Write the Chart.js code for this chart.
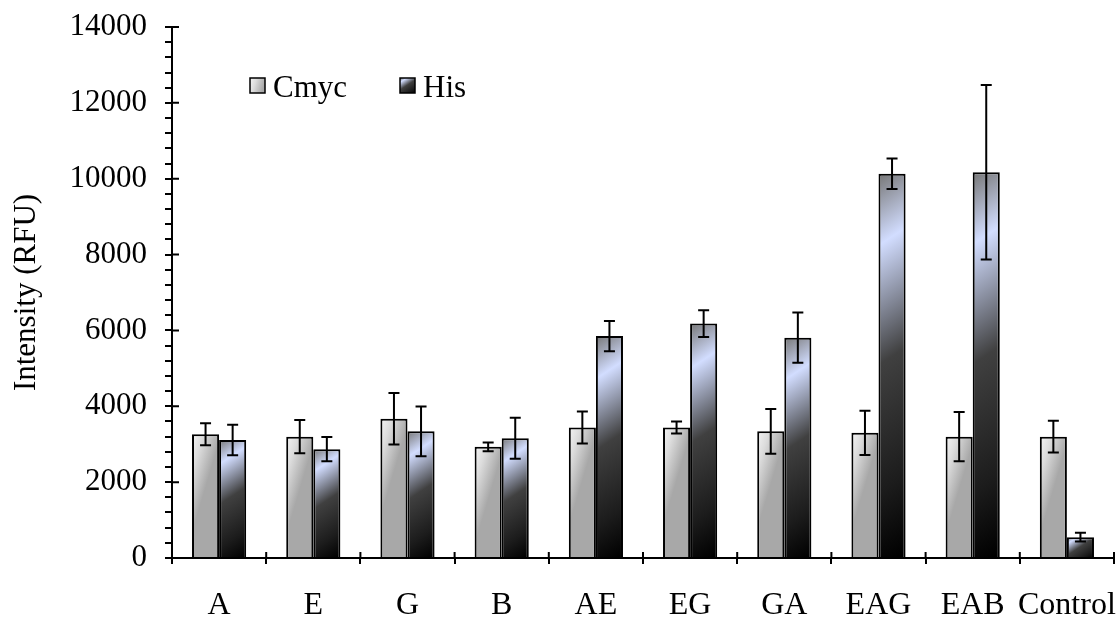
<!DOCTYPE html>
<html>
<head>
<meta charset="utf-8">
<script src="https://cdn.jsdelivr.net/npm/chart.js@4"></script>
<style>
  html, body { margin: 0; padding: 0; background: #fff; }
  #wrap { width: 1120px; height: 622px; }
</style>
</head>
<body>
<div id="wrap"><canvas id="rfuChart"></canvas></div>
<script>
const categories = ['A', 'E', 'G', 'B', 'AE', 'EG', 'GA', 'EAG', 'EAB', 'Control'];
const cmycValues = [3260, 3200, 3670, 2930, 3440, 3440, 3340, 3300, 3200, 3200];
const cmycErrors = [290, 440, 680, 115, 420, 160, 590, 585, 650, 420];
const hisValues = [3110, 2870, 3340, 3160, 5850, 6180, 5810, 10130, 10170, 550];
const hisErrors = [400, 320, 655, 540, 400, 350, 660, 400, 2300, 115];
const yMajorTicks = [0, 2000, 4000, 6000, 8000, 10000, 12000, 14000];

const FONT = "'Liberation Serif', 'Times New Roman', serif";
const CAT_PCT = 0.575;

function cmycFill(ctx, left, top, w, h) {
  const g = ctx.createLinearGradient(left, top, left + w, top + w * 0.3);
  g.addColorStop(0, '#f4f4f4');
  g.addColorStop(0.4, '#dcdcdc');
  g.addColorStop(1, '#a8a8a8');
  return g;
}

// fixed-angle diagonal band, like the spreadsheet fill
function hisFill(ctx, left, top, w, h) {
  const dx = 0.55, dy = 0.83;
  const len = w * dx + h * dy;
  const g = ctx.createLinearGradient(left, top, left + dx * len, top + dy * len);
  g.addColorStop(0, '#767676');
  g.addColorStop(0.18, '#d2ddff');
  g.addColorStop(0.48, '#404040');
  g.addColorStop(0.8, '#1c1c1c');
  g.addColorStop(1, '#000000');
  return g;
}

// gradient per bar, worked out from the scales
function barFill(fillFn, values, side) {
  return function(c) {
    const chart = c.chart;
    if (!chart.chartArea || c.dataIndex === undefined) return '#ccc';
    const xs = chart.scales.x, ys = chart.scales.y;
    const w = xs.width / categories.length * CAT_PCT / 2;
    const cx = xs.getPixelForValue(c.dataIndex);
    const left = side === 0 ? cx - w : cx;
    const top = ys.getPixelForValue(values[c.dataIndex]);
    const bottom = ys.getPixelForValue(0);
    return fillFn(chart.ctx, left, top, w, Math.max(bottom - top, 1));
  };
}

const errorBars = {
  id: 'errorBars',
  afterDatasetsDraw(chart) {
    const ctx = chart.ctx, ys = chart.scales.y;
    const errs = [cmycErrors, hisErrors];
    const vals = [cmycValues, hisValues];
    ctx.save();
    ctx.strokeStyle = '#000';
    ctx.lineWidth = 2;
    chart.data.datasets.forEach((ds, di) => {
      chart.getDatasetMeta(di).data.forEach((bar, i) => {
        const hi = ys.getPixelForValue(vals[di][i] + errs[di][i]);
        const lo = ys.getPixelForValue(vals[di][i] - errs[di][i]);
        ctx.beginPath();
        ctx.moveTo(bar.x, hi); ctx.lineTo(bar.x, lo);
        ctx.moveTo(bar.x - 5.5, hi); ctx.lineTo(bar.x + 5.5, hi);
        ctx.moveTo(bar.x - 5.5, lo); ctx.lineTo(bar.x + 5.5, lo);
        ctx.stroke();
      });
    });
    ctx.restore();
  }
};

// inner half of the crossing tick marks + legend inside the plot
const axisExtras = {
  id: 'axisExtras',
  afterDraw(chart) {
    const ctx = chart.ctx, xs = chart.scales.x, ys = chart.scales.y;
    const area = chart.chartArea;
    ctx.save();
    ctx.strokeStyle = '#000';
    ctx.lineWidth = 2;
    ctx.beginPath();
    yMajorTicks.forEach(v => {
      const py = ys.getPixelForValue(v);
      ctx.moveTo(area.left, py); ctx.lineTo(area.left + 7, py);
    });
    const step = xs.width / categories.length;
    for (let i = 0; i <= categories.length; i++) {
      const px = xs.left + i * step;
      ctx.moveTo(px, area.bottom); ctx.lineTo(px, area.bottom - 6);
    }
    ctx.stroke();

    const fills = [cmycFill, hisFill];
    const offsets = [78, 228];
    ctx.font = '31px ' + FONT;
    ctx.textBaseline = 'alphabetic';
    chart.data.datasets.forEach((ds, di) => {
      const bx = area.left + offsets[di], by = area.top + 51;
      ctx.fillStyle = fills[di](ctx, bx, by, 15, 15);
      ctx.fillRect(bx, by, 15, 15);
      ctx.lineWidth = 1.5;
      ctx.strokeRect(bx, by, 15, 15);
      ctx.fillStyle = '#000';
      ctx.fillText(ds.label, bx + 23, by + 19);
    });
    ctx.restore();
  }
};

new Chart(document.getElementById('rfuChart'), {
  type: 'bar',
  data: {
    labels: categories,
    datasets: [
      {
        label: 'Cmyc',
        data: cmycValues,
        backgroundColor: barFill(cmycFill, cmycValues, 0),
        borderColor: '#000',
        borderWidth: 2,
        categoryPercentage: CAT_PCT,
        barPercentage: 1
      },
      {
        label: 'His',
        data: hisValues,
        backgroundColor: barFill(hisFill, hisValues, 1),
        borderColor: '#000',
        borderWidth: 2,
        categoryPercentage: CAT_PCT,
        barPercentage: 1
      }
    ]
  },
  options: {
    responsive: true,
    maintainAspectRatio: false,
    animation: false,
    layout: { padding: { top: 27, right: 6, left: 0, bottom: 0 } },
    plugins: { legend: { display: false }, tooltip: { enabled: false } },
    scales: {
      x: {
        offset: true,
        grid: { display: true, drawOnChartArea: false, offset: true, tickLength: 6, color: '#000', lineWidth: 2 },
        border: { display: true, color: '#000', width: 2 },
        ticks: { color: '#000', font: { family: FONT, size: 32 }, padding: 22, autoSkip: false, maxRotation: 0 },
        afterFit(scale) {
          scale.height = 64;
          scale.paddingLeft = 0;
          scale.paddingRight = 0;
        }
      },
      y: {
        min: 0,
        max: 14000,
        grid: { display: true, drawOnChartArea: false, tickLength: 7, color: '#000', lineWidth: 2 },
        border: { display: true, color: '#000', width: 2 },
        ticks: {
          stepSize: 400,
          autoSkip: false,
          color: '#000',
          font: { family: FONT, size: 31 },
          padding: 18,
          callback: v => (v % 2000 === 0 ? String(v) : '')
        },
        title: {
          display: true,
          text: 'Intensity (RFU)',
          color: '#000',
          font: { family: FONT, size: 31 },
          padding: { top: 8, bottom: 0 }
        },
        afterFit(scale) {
          scale.width = 172;
          scale.paddingTop = 0;
          scale.paddingBottom = 0;
        }
      }
    }
  },
  plugins: [errorBars, axisExtras]
});
</script>
</body>
</html>
